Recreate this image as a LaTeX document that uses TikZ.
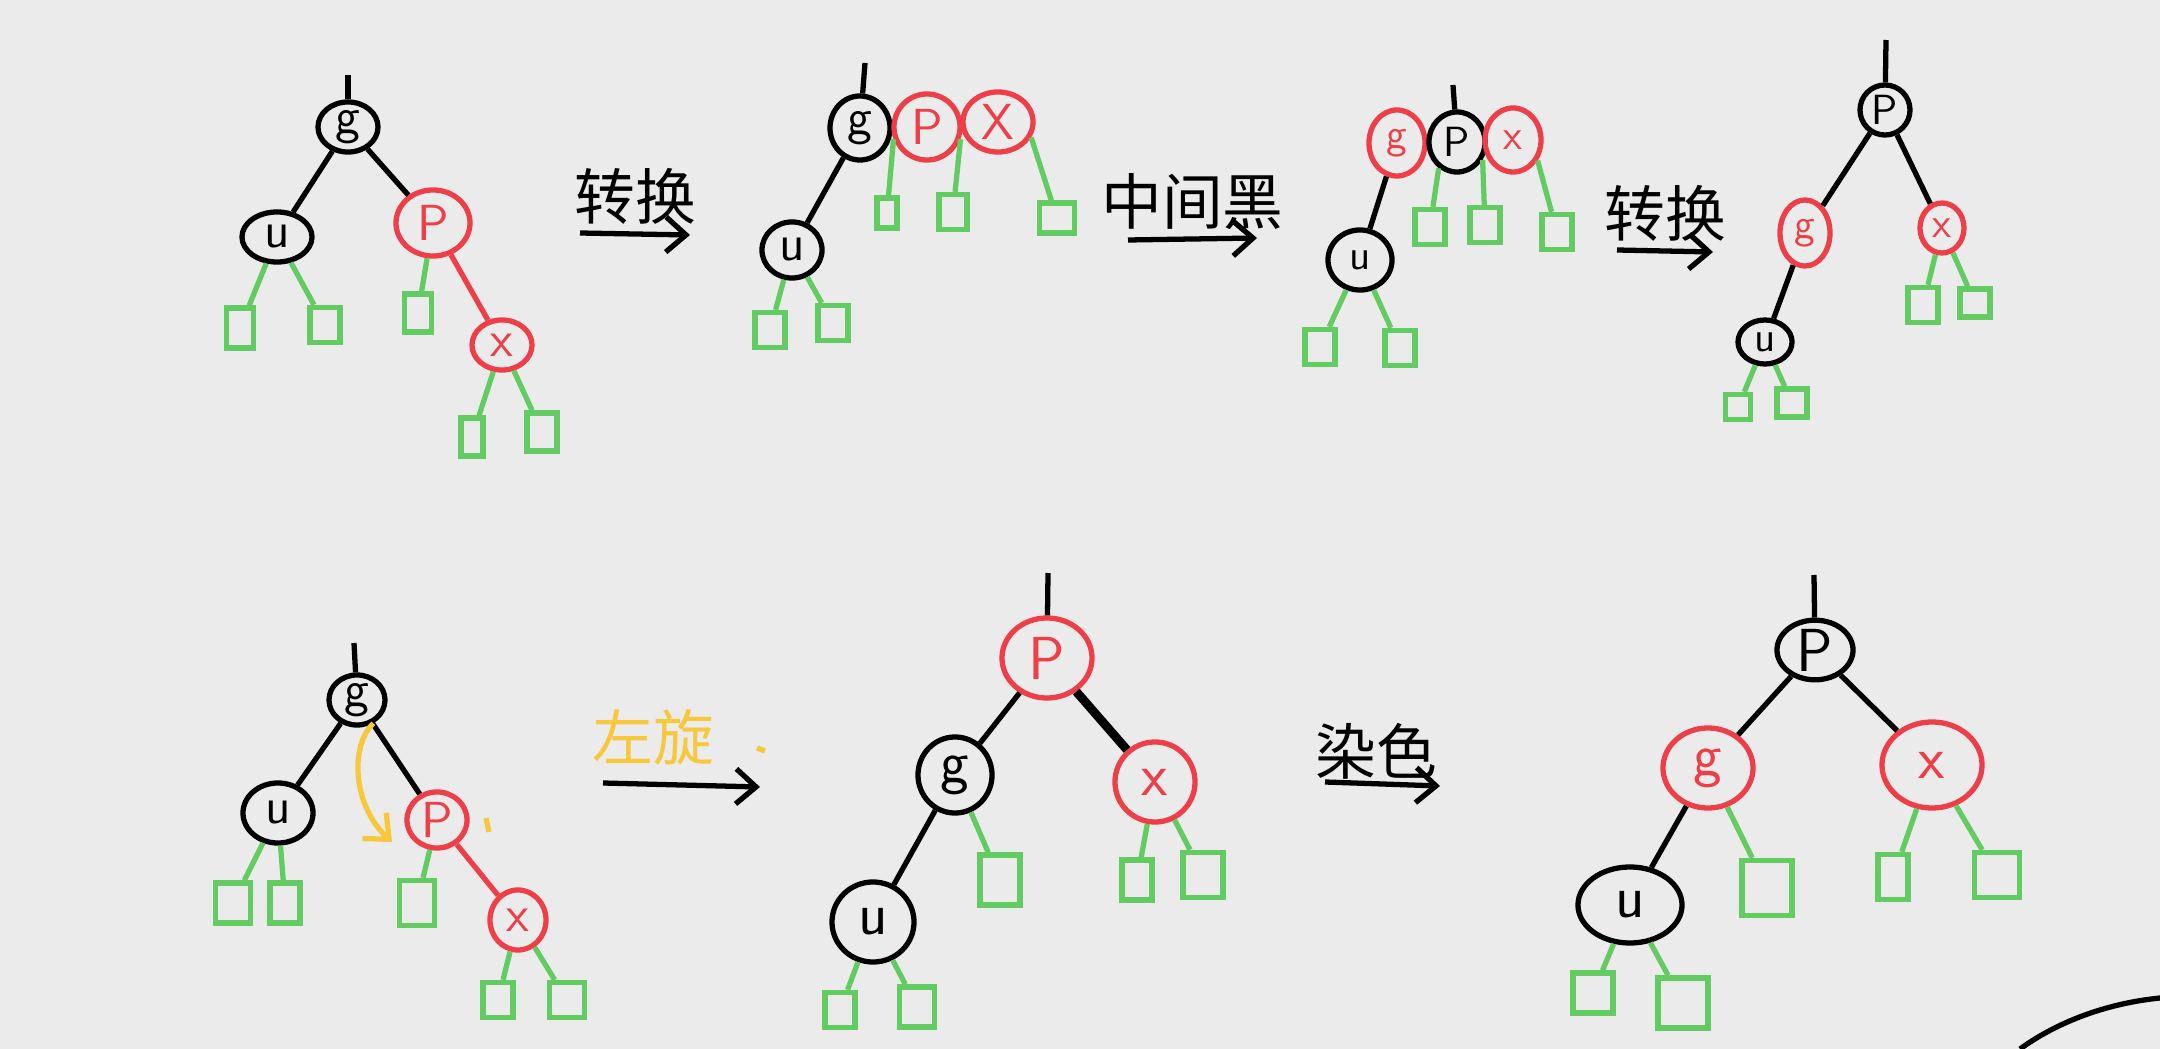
\documentclass[tikz,border=0pt]{standalone}
\usepackage{fontspec}
\usepackage{tikz}
\usetikzlibrary{shapes.geometric, arrows.meta, positioning}
\newfontfamily\cjk{Noto Sans CJK SC}
\definecolor{bgcol}{RGB}{235,235,235}
\definecolor{inkred}{RGB}{238,62,72}
\definecolor{inkgreen}{RGB}{98,204,98}
\definecolor{inkyellow}{RGB}{247,200,60}

\begin{document}
\begin{tikzpicture}[x=0.01cm, y=-0.01cm, >={Straight Barb[length=2mm,width=3.5mm]},
	every node/.style={font=\sffamily\Large},
	sz/.style 2 args={minimum width=#1mm, minimum height=#2mm},
	blk/.style={ellipse, draw=black, line width=1.5pt, inner sep=0pt, text=black},
	rd/.style={ellipse, draw=inkred, line width=1.5pt, inner sep=0pt, text=inkred},
	leaf/.style={rectangle, draw=inkgreen, line width=1.5pt, inner sep=0pt,
		minimum width=3mm, minimum height=3.5mm},
	tr/.style={draw=black, line width=1.5pt},
	rl/.style={draw=inkred, line width=1.5pt},
	gl/.style={draw=inkgreen, line width=1.5pt},
	arr/.style={->, draw=black, line width=1.5pt},
	]
	\useasboundingbox (0,0) rectangle (2160,1049);
	\fill[bgcol] (0,0) rectangle (2160,1049);
	
	% first tree
	\coordinate (r1) at (348,75);
	\node[blk, sz={6}{5}] (g1) at (348,127) {g};
	\node[blk, sz={7}{5}] (u1) at (277,237) {u};
	\node[rd, sz={7.4}{6.6}] (p1) at (433,223) {P};
	\node[rd, sz={6}{5}] (x1) at (502,345) {x};
	\node[leaf, sz={2.7}{4}] (a1) at (240,328) {};
	\node[leaf] (b1) at (325,325) {};
	\node[leaf, sz={2.7}{3.8}] (c1) at (418,313) {};
	\node[leaf, sz={2.2}{3.8}] (d1) at (472,437) {};
	\node[leaf, sz={3}{3.8}] (e1) at (542,432) {};
	\path (r1) edge[tr] (g1)
	(g1) edge[tr] (u1)
	(g1) edge[tr] (p1)
	(p1) edge[rl] (x1)
	(u1) edge[gl] (a1)
	(u1) edge[gl] (b1)
	(p1) edge[gl] (c1)
	(x1) edge[gl] (d1)
	(x1) edge[gl] (e1);
	
	\coordinate (arr1s) at (580,233);
	\coordinate (arr1e) at (690,235);
	\draw[arr] (arr1s) -- node[above=-0.5mm, font=\cjk\LARGE] {转换} (arr1e);
	
	% second tree
	\coordinate (r2) at (865,63);
	\node[blk, sz={6}{6.4}] (g2) at (860,128) {g};
	\node[rd, sz={6.6}{6.6}] (p2) at (927,127) {P};
	\node[rd, sz={7}{6}] (x2) at (998,122) {X};
	\node[blk, sz={6}{5.6}] (u2) at (792,250) {u};
	\node[leaf, sz={2}{3}] (a2) at (887,213) {};
	\node[leaf, sz={2.8}{3.5}] (b2) at (953,212) {};
	\node[leaf, sz={3.5}{3}] (c2) at (1057,218) {};
	\node[leaf] (d2) at (770,330) {};
	\node[leaf] (e2) at (833,323) {};
	\path (r2) edge[tr] (g2)
	(g2) edge[tr] (u2)
	(p2.200) edge[gl] (a2)
	(p2.-20) edge[gl] (b2)
	(x2.-25) edge[gl] (c2)
	(u2) edge[gl] (d2)
	(u2) edge[gl] (e2);
	
	\coordinate (arr2s) at (1128,240);
	\coordinate (arr2e) at (1257,238);
	\draw[arr] (arr2s) -- node[above=-0.5mm, font=\cjk\LARGE] {中间黑} (arr2e);
	
	% third tree
	\coordinate (r3) at (1453,85);
	\node[rd, sz={5.6}{6.6}, font=\sffamily\large] (g3) at (1397,143) {g};
	\node[blk, sz={5.6}{6}, font=\sffamily\large] (p3) at (1457,142) {P};
	\node[rd, sz={5.6}{6.4}, font=\sffamily\large] (x3) at (1513,140) {x};
	\node[blk, sz={6.4}{6}, font=\sffamily\large] (u3) at (1360,260) {u};
	\node[leaf] (a3) at (1430,227) {};
	\node[leaf] (b3) at (1485,225) {};
	\node[leaf] (c3) at (1557,232) {};
	\node[leaf] (d3) at (1320,347) {};
	\node[leaf] (e3) at (1400,348) {};
	\path (r3) edge[tr] (p3)
	(g3) edge[tr] (u3)
	(p3.235) edge[gl] (a3)
	(p3.-35) edge[gl] (b3)
	(x3.-40) edge[gl] (c3)
	(u3) edge[gl] (d3)
	(u3) edge[gl] (e3);
	
	\coordinate (arr3s) at (1617,250);
	\coordinate (arr3e) at (1713,252);
	\draw[arr] (arr3s) -- node[above=-0.5mm, font=\cjk\LARGE] {转换} (arr3e);
	
	% fourth tree
	\coordinate (r4) at (1886,40);
	\node[blk, sz={5}{5}, font=\sffamily\large] (p4) at (1885,110) {P};
	\node[rd, sz={5}{6.6}, font=\sffamily\large] (g4) at (1805,233) {g};
	\node[rd, sz={4.4}{5}, font=\sffamily\large] (x4) at (1942,228) {x};
	\node[blk, sz={5.4}{4.4}, font=\sffamily\large] (u4) at (1765,342) {u};
	\node[leaf] (a4) at (1923,305) {};
	\node[leaf, sz={3}{2.8}] (b4) at (1975,303) {};
	\node[leaf, sz={2.5}{2.5}] (c4) at (1738,407) {};
	\node[leaf, sz={3}{2.8}] (d4) at (1792,403) {};
	\path (r4) edge[tr] (p4)
	(p4) edge[tr] (g4)
	(p4) edge[tr] (x4)
	(g4) edge[tr] (u4)
	(x4) edge[gl] (a4)
	(x4) edge[gl] (b4)
	(u4) edge[gl] (c4)
	(u4) edge[gl] (d4);
	
	% fifth tree
	\coordinate (r5) at (354,643);
	\node[blk, sz={5.6}{5}] (g5) at (357,700) {g};
	\node[blk, sz={7}{6}] (u5) at (278,813) {u};
	\node[rd, sz={6}{5.6}] (p5) at (437,820) {P};
	\node[rd, sz={5.6}{6}] (x5) at (518,920) {x};
	\node[leaf, sz={3.5}{4}] (a5) at (233,903) {};
	\node[leaf, sz={3}{4}] (b5) at (285,903) {};
	\node[leaf, sz={3.5}{4.5}] (c5) at (417,903) {};
	\node[leaf, sz={3}{3.5}] (d5) at (498,1000) {};
	\node[leaf, sz={3.5}{3.5}] (e5) at (567,1000) {};
	\coordinate (yl5) at (392,842);
	\path (r5) edge[tr] (g5)
	(g5) edge[tr] (u5)
	(g5) edge[tr] (p5)
	(p5) edge[rl] (x5)
	(u5) edge[gl] (a5)
	(u5) edge[gl] (b5)
	(p5) edge[gl] (c5)
	(x5) edge[gl] (d5)
	(x5) edge[gl] (e5);
	\draw[->, draw=inkyellow, line width=1.5pt] (g5.-55) .. controls (350,745) and (352,805) .. (yl5);
	\draw[inkyellow, line width=1.5pt] (486,818) -- (489,832);
	
	\coordinate (arr4s) at (603,783);
	\coordinate (arr4e) at (760,787);
	\draw[arr] (arr4s) -- node[above=0.5mm, pos=0.32, font=\cjk\LARGE, text=inkyellow] {左旋} (arr4e);
	\draw[inkyellow, line width=1.5pt] (757,748) -- (765,751);
	
	% sixth tree
	\coordinate (r6) at (1048,573);
	\node[rd, sz={9}{8}, font=\sffamily\LARGE] (p6) at (1047,658) {P};
	\node[blk, sz={7.4}{7.6}, font=\sffamily\LARGE] (g6) at (955,775) {g};
	\node[rd, sz={8}{8}, font=\sffamily\LARGE] (x6) at (1155,782) {x};
	\node[blk, sz={8.2}{8}, font=\sffamily\LARGE] (u6) at (873,922) {u};
	\node[leaf, sz={4}{5}] (a6) at (1000,880) {};
	\node[leaf, sz={3}{4}] (b6) at (1137,880) {};
	\node[leaf, sz={4}{4.5}] (c6) at (1203,875) {};
	\node[leaf] (d6) at (840,1010) {};
	\node[leaf, sz={3.5}{4}] (e6) at (917,1007) {};
	\path (r6) edge[tr] (p6)
	(p6) edge[tr] (g6)
	(p6) edge[tr, line width=2.5pt] (x6)
	(g6) edge[tr] (u6)
	(g6) edge[gl] (a6)
	(x6) edge[gl] (b6)
	(x6) edge[gl] (c6)
	(u6) edge[gl] (d6)
	(u6) edge[gl] (e6);
	
	\coordinate (arr5s) at (1325,782);
	\coordinate (arr5e) at (1440,786);
	\draw[arr] (arr5s) -- node[above=-1mm, pos=0.45, font=\cjk\LARGE] {染色} (arr5e);
	
	% seventh tree
	\coordinate (r7) at (1814,575);
	\node[blk, sz={7.6}{5.6}, font=\sffamily\LARGE] (p7) at (1815,650) {P};
	\node[rd, sz={9}{8}, font=\sffamily\LARGE] (g7) at (1708,768) {g};
	\node[rd, sz={10}{8.6}, font=\sffamily\LARGE] (x7) at (1932,765) {x};
	\node[blk, sz={10.4}{7.6}, font=\sffamily\LARGE] (u7) at (1630,905) {u};
	\node[leaf, sz={5}{5.5}] (a7) at (1767,888) {};
	\node[leaf, sz={3}{4.5}] (b7) at (1893,877) {};
	\node[leaf, sz={4.5}{4.5}] (c7) at (1997,875) {};
	\node[leaf, sz={4}{4}] (d7) at (1593,993) {};
	\node[leaf, sz={5}{5}] (e7) at (1683,1003) {};
	\path (r7) edge[tr] (p7)
	(p7) edge[tr] (g7)
	(p7) edge[tr] (x7)
	(g7) edge[tr] (u7)
	(g7) edge[gl] (a7)
	(x7) edge[gl] (b7)
	(x7) edge[gl] (c7)
	(u7) edge[gl] (d7)
	(u7) edge[gl] (e7);
	
	\draw[line width=1.5pt] (2020,1049) .. controls (2060,1020) and (2110,1003) .. (2160,998);
\end{tikzpicture}
\end{document}
